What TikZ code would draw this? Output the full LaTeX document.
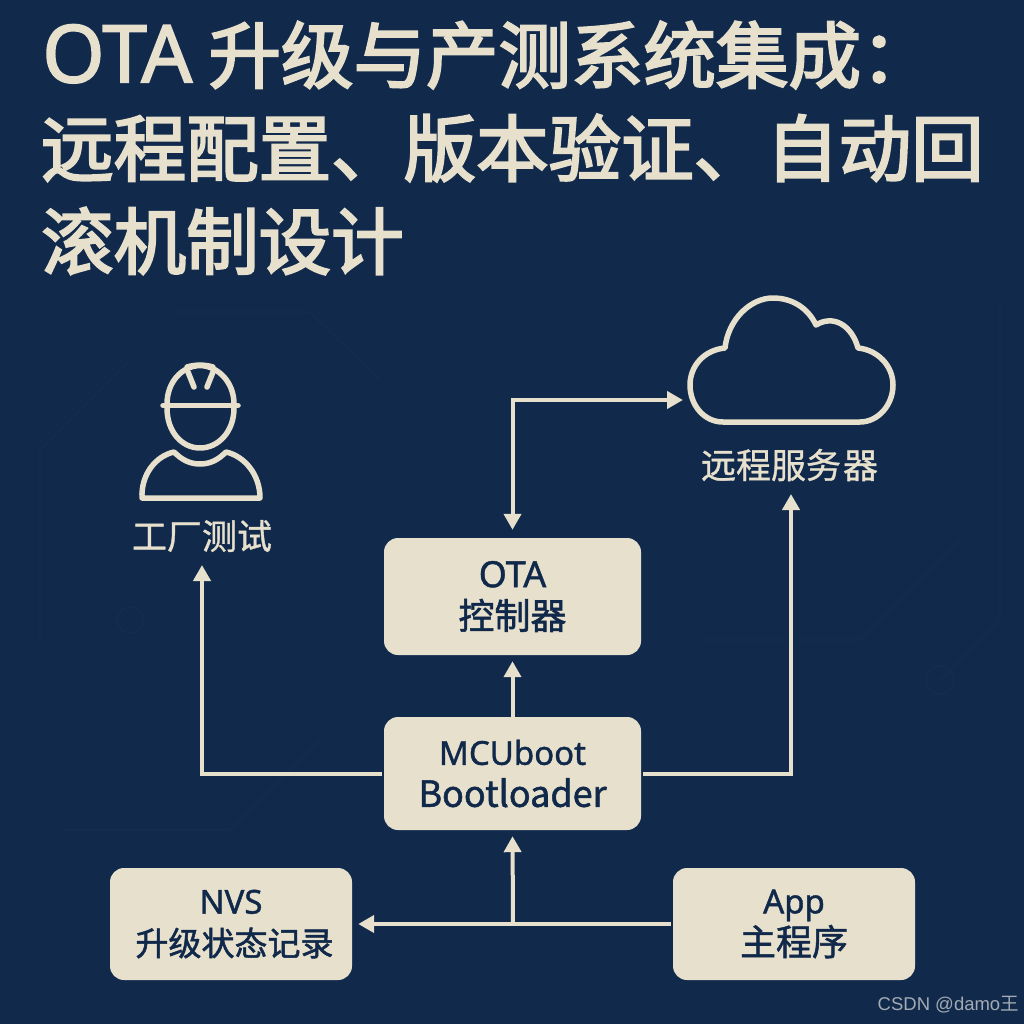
\documentclass[tikz,border=0pt]{standalone}
\usepackage{fontspec}
\usetikzlibrary{arrows.meta}
\setmainfont{Noto Sans CJK SC}
\newfontfamily\titlefont[FakeBold=3]{Noto Sans CJK SC}
\newfontfamily\titlelatin[FakeBold=2]{Noto Sans}
\newfontfamily\boxfont[FakeBold=1.5]{Noto Sans CJK SC}
\newfontfamily\boxlatin[FakeBold=1.2]{Noto Sans}
\newfontfamily\labelfont[FakeBold=1]{Noto Sans CJK SC}
\newfontfamily\markfont{Liberation Sans}
\definecolor{bgnavy}{HTML}{112A4C}
\definecolor{cream}{HTML}{E6E0CC}
\definecolor{inknavy}{HTML}{10284A}
\definecolor{tracecol}{HTML}{132E52}
\definecolor{markgrey}{HTML}{A3ABB3}
\tikzset{
  x=1pt,y=-1pt,
  titleline/.style={anchor=west,inner sep=0pt,text=cream,font=\titlefont\fontsize{72.5}{72.5}\selectfont},
  boxnode/.style={draw=none,fill=cream,rounded corners=14pt,inner sep=0pt,text=inknavy,align=center,font=\boxfont\fontsize{36}{42}\selectfont},
  iconlabel/.style={inner sep=0pt,text=cream,font=\labelfont\fontsize{35}{35}\selectfont},
  wire/.style={draw=cream,line width=4pt},
  onearrow/.style={wire,-{Triangle[width=17pt,length=16pt]}},
  twoarrow/.style={wire,{Triangle[width=17pt,length=16pt]}-{Triangle[width=17pt,length=16pt]}},
  iconline/.style={draw=cream,line width=5.5pt,line cap=round,line join=round},
  trace/.style={draw=tracecol,line width=1.2pt}
}
\begin{document}
\begin{tikzpicture}
\useasboundingbox (0,0) rectangle (1024,1024);
\fill[bgnavy] (0,0) rectangle (1024,1024);
% faint circuit traces
\draw[trace] (175,312) -- (310,312) -- (380,380);
\draw[trace] (130,360) -- (40,450) -- (40,640);
\draw[trace] (700,640) -- (860,640) -- (960,540);
\draw[trace] (940,680) -- (1000,620) -- (1000,300);
\draw[trace] (60,830) -- (230,830) -- (320,740);
\draw[trace] (940,680) circle (14);
\draw[trace] (130,620) circle (13);
% title
\node[titleline] (t1) at (42,55) {{\titlelatin\fontsize{80}{80}\selectfont OTA} 升级与产测系统集成：};
\node[titleline] (t2) at (41,148) {远程配置、版本验证、自动回};
\node[titleline] (t3) at (41,241) {滚机制设计};
% boxes
\node[boxnode,minimum width=257pt,minimum height=117pt] (ota) at (512.5,596.5) {{\boxlatin OTA}\\控制器};
\node[boxnode,minimum width=257pt,minimum height=113pt] (boot) at (512.5,773.5) {\boxlatin\fontsize{33}{42}\selectfont MCUboot\\Bootloader};
\node[boxnode,minimum width=242pt,minimum height=112pt] (nvs) at (231,924) {{\boxlatin\fontsize{33}{42}\selectfont NVS}\hspace{7pt}\\\hspace{7pt}{\fontsize{33}{42}\selectfont 升级状态记录}};
\node[boxnode,minimum width=242pt,minimum height=112pt] (app) at (794,924) {{\boxlatin\fontsize{33}{42}\selectfont App}\\主程序};
% labels
\node[iconlabel] (factory) at (202,536) {工厂测试};
\node[iconlabel] (server) at (789.5,465) {远程服务\hspace{2pt}器};
% person icon
\draw[iconline] (167,404) .. controls (167,382) and (182,366) .. (200,365.5) .. controls (218,366) and (234,382) .. (234,404);
\draw[iconline] (187,367) .. controls (195,364.5) and (205,364.5) .. (213,367);
\draw[iconline] (163,405.5) -- (238,405.5);
\draw[iconline] (188,372) -- (194,387);
\draw[iconline] (213,372) -- (207,387);
\draw[iconline] (167,408) .. controls (167,432) and (182,448) .. (200,448) .. controls (218,448) and (234,432) .. (234,408);
\draw[iconline] (142,498) .. controls (141,474) and (156,456) .. (174,452) .. controls (182,460) and (190,464) .. (200,464) .. controls (210,464) and (218,460) .. (226,452) .. controls (244,456) and (260,474) .. (260,498) -- cycle;
% cloud icon
\draw[iconline] (723,422) .. controls (704,422) and (690,405) .. (690,385) .. controls (690,366) and (704,350) .. (725,348) .. controls (728,320) and (750,298) .. (773,298) .. controls (792,298) and (808,308) .. (816,325) .. controls (834,314) and (852,326) .. (858,348) .. controls (878,350) and (893,366) .. (893,385) .. controls (893,405) and (878,422) .. (860,422) -- cycle;
% connectors
\coordinate (cloudin) at (683,400);
\coordinate (factoryin) at (202,565);
\coordinate (serverin) at (791,494);
\coordinate (join) at (513,923.5);
\draw[twoarrow,shorten <=8pt] (ota.north) |- (cloudin);
\draw[onearrow,shorten >=6pt] (boot.north) -- (ota.south);
\draw[onearrow,shorten <=2pt] (boot.west) -| (factoryin);
\draw[onearrow,shorten <=2pt] (boot.east) -| (serverin);
\draw[onearrow,shorten <=2pt,shorten >=6pt] (app.west) -- (nvs.east);
\draw[onearrow,shorten >=6pt] (join) -- (boot.south);
% watermark
\node[inner sep=0pt,anchor=east,text=markgrey,font=\markfont\fontsize{18.5}{18.5}\selectfont] (mark) at (1019,1005) {CSDN @damo{\rmfamily 王}};
\end{tikzpicture}
\end{document}
